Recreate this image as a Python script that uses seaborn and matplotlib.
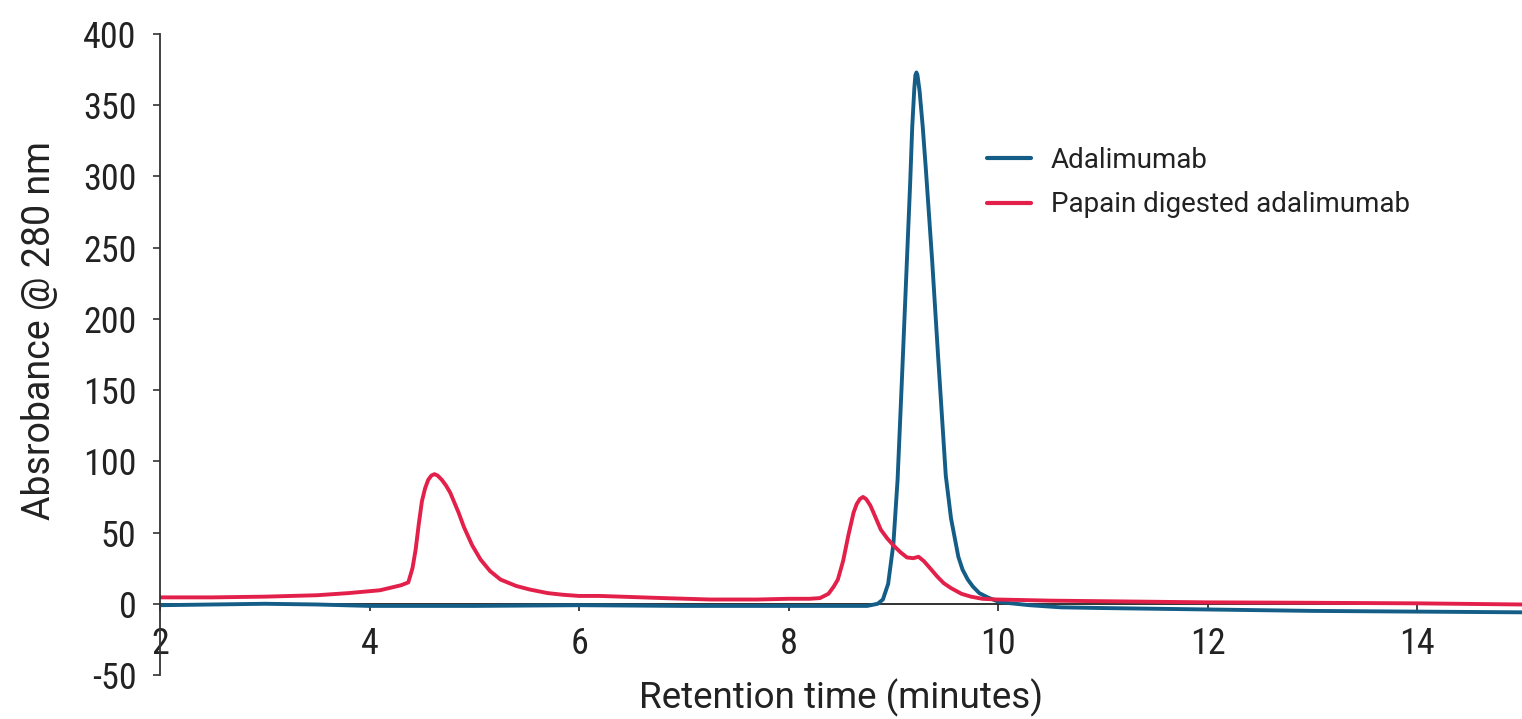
import matplotlib
matplotlib.use("Agg")
import matplotlib.pyplot as plt
import seaborn as sns
import pandas as pd
from matplotlib import font_manager

# ---- data ----
ada_time = [2.0, 2.5, 3.0, 3.5, 4.0, 5.0, 6.0, 7.0, 8.0, 8.5, 8.75, 8.85, 8.9, 8.95,
            9.0, 9.04, 9.08, 9.12, 9.16, 9.18, 9.20, 9.21, 9.22, 9.23, 9.25, 9.28,
            9.31, 9.37, 9.43, 9.50, 9.55, 9.62, 9.66, 9.71, 9.76, 9.82, 9.9, 10.0,
            10.1, 10.3, 10.6, 11.0, 12.0, 13.0, 14.0, 15.0]
ada_abs = [-1, -0.5, 0, -0.5, -1.5, -1.5, -1, -1.5, -1.5, -1.5, -1.5, 0, 3, 14,
           42, 87, 155, 225, 295, 335, 362, 371, 373, 371, 360, 335,
           305, 241, 170, 90, 60, 33, 24, 17, 12, 7.5, 4.5, 1.5,
           0.5, -1, -2.5, -3, -4, -5, -5.5, -6]

pap_time = [2.0, 2.5, 3.0, 3.5, 3.8, 4.1, 4.3, 4.37, 4.41, 4.44, 4.47, 4.50, 4.53,
            4.56, 4.59, 4.62, 4.65, 4.69, 4.73, 4.77, 4.85, 4.90, 4.98, 5.06, 5.15,
            5.25, 5.4, 5.53, 5.7, 5.85, 6.0, 6.2, 6.4, 6.8, 7.25, 7.7, 8.0, 8.2,
            8.3, 8.38, 8.43, 8.47, 8.52, 8.57, 8.62, 8.65, 8.68, 8.71, 8.74, 8.78,
            8.81, 8.88, 8.94, 9.00, 9.07, 9.13, 9.19, 9.24, 9.29, 9.35, 9.42, 9.48,
            9.55, 9.65, 9.74, 9.85, 9.99, 10.5, 11.0, 12.0, 13.0, 14.0, 15.0]
pap_abs = [4.5, 4.5, 5, 6, 7.5, 9.5, 13, 15, 25, 38, 56, 72, 81,
           87, 90, 91, 90, 87, 83, 78, 64, 54, 41, 31, 23,
           17, 12.5, 10, 7.5, 6.3, 5.5, 5.5, 5, 4, 3, 3, 3.5, 3.5,
           4, 7, 12, 17, 30, 48, 64, 70, 73.5, 75, 73.5, 69,
           64, 52, 46, 41, 36, 32.5, 32, 33, 30, 25, 19, 14.5,
           11, 7, 5, 3.5, 3, 2.2, 1.8, 1, 0.7, 0.3, -0.5]

series_names = ["Adalimumab", "Papain digested adalimumab"]
x_ticks = [2, 4, 6, 8, 10, 12, 14]
y_ticks = [-50, 0, 50, 100, 150, 200, 250, 300, 350, 400]

df = pd.concat([
    pd.DataFrame({"time": ada_time, "abs": ada_abs, "sample": series_names[0]}),
    pd.DataFrame({"time": pap_time, "abs": pap_abs, "sample": series_names[1]}),
], ignore_index=True)

sns.set_style("ticks")
avail = {f.name for f in font_manager.fontManager.ttflist}
fam_tick = [f for f in ["Roboto Condensed", "Liberation Sans Narrow", "Roboto", "DejaVu Sans"] if f in avail]
fam_lab = [f for f in ["Roboto", "Liberation Sans", "DejaVu Sans"] if f in avail]
plt.rcParams["font.family"] = fam_tick

fig = plt.figure(figsize=(15.22, 7.19), dpi=100)
ax = fig.add_axes([160 / 1522, 1 - 675 / 719, 1 - 160 / 1522, (675 - 34) / 719])

palette = {series_names[0]: "#135d87", series_names[1]: "#e2204a"}
sns.lineplot(data=df, x="time", y="abs", hue="sample", palette=palette,
             linewidth=2.8, ax=ax, sort=False, estimator=None)

ax.set_xlim(2, 15)
ax.set_ylim(-50, 400)
ax.set_xticks(x_ticks)
ax.set_yticks(y_ticks)
ax.set_xticklabels([str(v) for v in x_ticks])
ax.set_yticklabels([str(v) for v in y_ticks])

for s in ["top", "right"]:
    ax.spines[s].set_visible(False)
ax.spines["bottom"].set_position(("data", 0))
ax.spines["bottom"].set_color("#222222")
ax.spines["bottom"].set_linewidth(1.3)
ax.spines["left"].set_color("#333333")
ax.spines["left"].set_linewidth(1.3)
ax.spines["bottom"].set_zorder(1)

ax.tick_params(axis="x", direction="out", length=5, width=1.2, color="#222222",
               labelsize=26, pad=11, labelcolor="#222222")
ax.tick_params(axis="y", direction="out", length=5, width=1.2, color="#333333",
               labelsize=26, pad=12, labelcolor="#222222")

ax.set_xlabel("Retention time (minutes)", fontsize=26.5, color="#222222", family=fam_lab)
ax.set_ylabel("Absrobance @ 280 nm", fontsize=27, color="#222222", family=fam_lab)
ax.xaxis.set_label_coords(0.5, -0.006)
ax.yaxis.set_label_coords(-0.075, 0.538)

leg = ax.legend(loc="upper left", bbox_to_anchor=(987 / 1522, 1 - 147 / 719),
                bbox_transform=fig.transFigure, frameon=False,
                prop={"family": fam_lab, "size": 20},
                handlelength=1.6, handletextpad=0.7, labelspacing=0.62, borderpad=0,
                borderaxespad=0)
for line in leg.get_lines():
    line.set_linewidth(3)
for t in leg.get_texts():
    t.set_color("#222222")

fig.savefig("out.png", dpi=100)
